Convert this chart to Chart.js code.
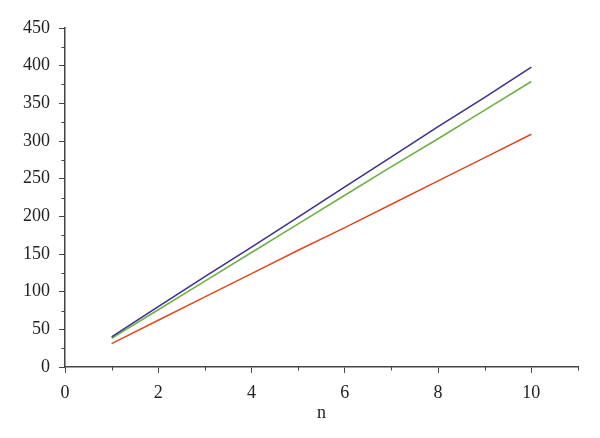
<!DOCTYPE html>
<html>
<head>
<meta charset="utf-8">
<script src="https://cdn.jsdelivr.net/npm/chart.js@4/dist/chart.umd.min.js"></script>
<style>
  body { margin: 0; background: #fff; }
  #wrap { width: 600px; height: 438px; }
</style>
</head>
<body>
<div id="wrap"><canvas id="chart"></canvas></div>
<script>
// values
const nValues = [1, 2, 3, 4, 5, 6, 7, 8, 9, 10];
const blueSeries = [40, 80, 120, 159, 199, 239, 279, 319, 358, 398];
const greenSeries = [38, 76, 114, 152, 190, 228, 266, 303, 341, 379];
const redSeries = [31, 62, 93, 124, 155, 185, 216, 247, 278, 309];

const axisColor = '#444';
const textColor = '#222';
const fontFamily = '"Liberation Serif", "DejaVu Serif", serif';

function toPoints(values) {
    return nValues.map(function(n, i) { return { x: n, y: values[i] }; });
}

function makeLine(label, values, color) {
    return {
        label: label,
        data: toPoints(values),
        borderColor: color,
        backgroundColor: color,
        borderWidth: 1.5,
        pointRadius: 0,
        tension: 0,
        fill: false
    };
}

// short ticks for the unlabeled minor steps
const minorTicks = {
    id: 'minorTicks',
    afterDraw: function(chart) {
        const ctx = chart.ctx;
        ctx.save();
        ctx.strokeStyle = axisColor;
        ctx.lineWidth = 1;
        const xs = chart.scales.x;
        xs.ticks.forEach(function(t) {
            if (t.value % 2 !== 0) {
                const px = Math.round(xs.getPixelForValue(t.value)) + 0.5;
                ctx.beginPath();
                ctx.moveTo(px, xs.top);
                ctx.lineTo(px, xs.top + 3.5);
                ctx.stroke();
            }
        });
        const ys = chart.scales.y;
        ys.ticks.forEach(function(t) {
            if (t.value % 50 !== 0) {
                const py = Math.round(ys.getPixelForValue(t.value)) + 0.5;
                ctx.beginPath();
                ctx.moveTo(ys.right, py);
                ctx.lineTo(ys.right - 3.5, py);
                ctx.stroke();
            }
        });
        ctx.restore();
    }
};

new Chart(document.getElementById('chart').getContext('2d'), {
    type: 'line',
    data: {
        datasets: [
            makeLine('Series 1', blueSeries, '#3b2e8e'),
            makeLine('Series 2', greenSeries, '#6cb043'),
            makeLine('Series 3', redSeries, '#e2471f')
        ]
    },
    options: {
        responsive: true,
        maintainAspectRatio: false,
        animation: false,
        layout: {
            padding: { top: 28, right: 22, bottom: 0, left: 0 }
        },
        plugins: {
            legend: { display: false },
            tooltip: { enabled: false }
        },
        scales: {
            x: {
                type: 'linear',
                min: 0,
                max: 11,
                afterFit: function(scale) { scale.height = 71; },
                ticks: {
                    stepSize: 1,
                    autoSkip: false,
                    maxRotation: 0,
                    color: textColor,
                    padding: 9,
                    font: { family: fontFamily, size: 18 },
                    callback: function(v) { return v % 2 === 0 && v <= 10 ? v : ''; }
                },
                grid: {
                    drawOnChartArea: false,
                    tickLength: 6,
                    tickWidth: 1,
                    tickColor: function(c) {
                        return c.tick && c.tick.value % 2 === 0 ? axisColor : 'rgba(0,0,0,0)';
                    }
                },
                border: { display: true, color: axisColor, width: 1.5 },
                title: {
                    display: true,
                    text: 'n',
                    color: textColor,
                    font: { family: fontFamily, size: 18 },
                    padding: { top: 0, bottom: 14 }
                }
            },
            y: {
                min: 0,
                max: 450,
                afterFit: function(scale) { scale.width = 65; },
                ticks: {
                    stepSize: 25,
                    autoSkip: false,
                    color: textColor,
                    padding: 9,
                    font: { family: fontFamily, size: 18 },
                    callback: function(v) { return v % 50 === 0 ? v : ''; }
                },
                grid: {
                    drawOnChartArea: false,
                    tickLength: 6,
                    tickWidth: 1,
                    tickColor: function(c) {
                        return c.tick && c.tick.value % 50 === 0 ? axisColor : 'rgba(0,0,0,0)';
                    }
                },
                border: { display: true, color: axisColor, width: 1.5 }
            }
        }
    },
    plugins: [minorTicks]
});
</script>
</body>
</html>
